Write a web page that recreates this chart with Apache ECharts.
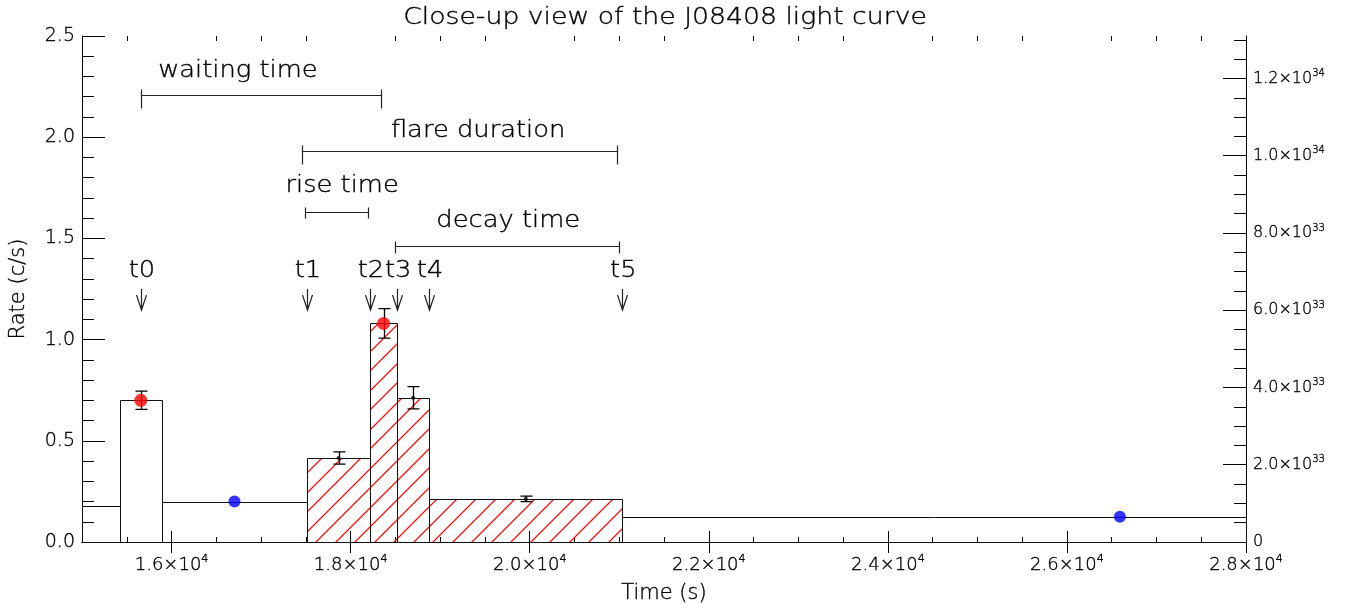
<!DOCTYPE html>
<html>
<head>
<meta charset="utf-8">
<script src="https://cdn.jsdelivr.net/npm/echarts@6/dist/echarts.min.js"></script>
<style>
html,body{margin:0;padding:0;background:#fff;}
#c{width:1346px;height:604px;}
</style>
</head>
<body>
<div id="c"></div>
<script>
// ---------------- data ----------------
const binStart = [14500, 15421, 15893, 17513, 18216, 18521, 18875, 21034];
const binEnd   = [15421, 15893, 17513, 18216, 18521, 18875, 21034, 32150];
const binRate  = [0.179, 0.700, 0.200, 0.415, 1.080, 0.713, 0.213, 0.125];
const binFlare = [0, 0, 0, 1, 1, 1, 1, 0];

const peakTimes = [15657, 18368];
const peakRates = [0.700, 1.080];
const quiescentTimes = [16703, 26592];
const quiescentRates = [0.200, 0.125];
const flareBinTimes = [17865, 18698, 19955];
const flareBinRates = [0.415, 0.713, 0.213];

const errTimes = [15657, 17865, 18368, 18698, 19955];
const errRates = [0.700, 0.415, 1.080, 0.713, 0.213];
const errSizes = [0.045, 0.030, 0.073, 0.055, 0.014];

const markerNames = ['t0', 't1', 't2', 't3', 't4', 't5'];
const markerTimes = [15659, 17513, 18216, 18521, 18875, 21034];
const markerLabelLevel = 1.34;
const markerArrowTop = 1.25;

const intervalNames = ['waiting time', 'flare duration', 'rise time', 'decay time'];
const intervalStart = [15659, 17457, 17490, 18496];
const intervalEnd   = [18340, 20975, 18194, 20997];
const intervalLevel = [2.21, 1.93, 1.63, 1.46];
const intervalTextTime  = [16742, 19424, 17905, 19760];
const intervalTextLevel = [2.325, 2.03, 1.759, 1.586];

const xMajorTicks = [16000, 18000, 20000, 22000, 24000, 26000, 28000];
const yLeftTicks = [0.0, 0.5, 1.0, 1.5, 2.0, 2.5];
const yRightTicks = [0, 2e33, 4e33, 6e33, 8e33, 1.0e34, 1.2e34];
const lumPerRate = 5.24e33;

// ---------------- helpers ----------------
const FONT = '"DejaVu Sans", sans-serif';
const FW = 200;
const TXT = '#000';
const TB = { textBorderColor: '#000', textBorderWidth: 0.35 };   // for ECharts text styles
const ZB = { stroke: '#000', lineWidth: 0.35 };                   // for zrender text elements
const xMinor = [];
for (let t = 15500; t < 28000; t += 500) if (xMajorTicks.indexOf(t) < 0) xMinor.push(t);
const yRightMax = 2.5 * lumPerRate;
const yRightMinor = [];
for (let i = 1; i * 5e32 < yRightMax; i++) { if (i % 4 !== 0) yRightMinor.push(i * 5e32); }

function sciRich(v) {
  if (v === 0) return '{m|0}';
  const e = Math.floor(Math.log10(v) + 1e-9);
  const m = v / Math.pow(10, e);
  return '{m|' + m.toFixed(1) + '×10}{s|' + e + '}';
}

const chart = echarts.init(document.getElementById('c'));

function px(v){ return Math.round(v) + 0.5; }

function renderBar(params, api) {
  const s = api.value(0), e = api.value(1), r = api.value(2), h = api.value(3);
  const cs = params.coordSys;
  const p0 = api.coord([s, r]);
  const p1 = api.coord([e, 0]);
  const x0 = px(Math.max(p0[0], cs.x));
  const x1 = px(Math.min(p1[0], cs.x + cs.width));
  const yT = px(p0[1]), yB = px(p1[1]);
  const children = [];
  if (h) {
    const sp = 19.5;
    let d = '';
    let k = Math.ceil((x0 + yT) / sp);
    for (; k * sp < x1 + yB; k++) {
      const c = Math.round(k * sp);
      const xs = Math.max(x0, c - yB);
      const xe = Math.min(x1, c - yT);
      if (xe > xs) {
        d += 'M' + xs + ' ' + (c - xs) + 'L' + xe + ' ' + (c - xe);
      }
    }
    if (d) {
      children.push({ type: 'path', shape: { pathData: d },
        style: { fill: null, stroke: '#ff0000', lineWidth: 1.1 } });
    }
  }
  children.push({ type: 'rect', shape: { x: x0, y: yT, width: x1 - x0, height: yB - yT },
    style: { fill: null, stroke: '#111', lineWidth: 1 } });
  return { type: 'group', children: children };
}

function renderErr(params, api) {
  const t = api.value(0), r = api.value(1), e = api.value(2);
  const a = api.coord([t, r + e]);
  const b = api.coord([t, r - e]);
  const x = px(a[0]);
  const d = 'M' + x + ' ' + a[1] + 'L' + x + ' ' + b[1] +
            'M' + (x - 6) + ' ' + a[1] + 'L' + (x + 6) + ' ' + a[1] +
            'M' + (x - 6) + ' ' + b[1] + 'L' + (x + 6) + ' ' + b[1];
  return { type: 'path', shape: { pathData: d }, style: { fill: null, stroke: '#000', lineWidth: 1.3 } };
}

const capAbove = [6, 6, 5, 5];
const capBelow = [13, 13, 6, 7];
function renderInterval(params, api) {
  const i = params.dataIndex;
  const a = api.coord([api.value(0), api.value(2)]);
  const b = api.coord([api.value(1), api.value(2)]);
  const tp = api.coord([api.value(3), api.value(4)]);
  const y = px(a[1]);
  const xa = px(a[0]), xb = px(b[0]);
  const d = 'M' + xa + ' ' + y + 'L' + xb + ' ' + y +
            'M' + xa + ' ' + (y - capAbove[i]) + 'L' + xa + ' ' + (y + capBelow[i]) +
            'M' + xb + ' ' + (y - capAbove[i]) + 'L' + xb + ' ' + (y + capBelow[i]);
  return { type: 'group', children: [
    { type: 'path', shape: { pathData: d }, style: { fill: null, stroke: '#222', lineWidth: 1.2 } },
    { type: 'text', x: tp[0], y: tp[1], scaleX: 1.12,
      style: Object.assign({ text: intervalNames[i], fill: TXT, fontSize: 23, fontFamily: FONT, fontWeight: FW,
        align: 'center', verticalAlign: 'middle' }, ZB) }
  ]};
}

function renderMarker(params, api) {
  const i = params.dataIndex;
  const t = api.value(0);
  const top = api.coord([t, markerArrowTop]);
  const lab = api.coord([t, markerLabelLevel]);
  const x = px(top[0]);
  const y0 = top[1], y1 = top[1] + 21;
  const d = 'M' + x + ' ' + y0 + 'L' + x + ' ' + y1 +
            'M' + (x - 5) + ' ' + (y1 - 15) + 'L' + x + ' ' + y1 + 'L' + (x + 5) + ' ' + (y1 - 15);
  return { type: 'group', children: [
    { type: 'path', shape: { pathData: d }, style: { fill: null, stroke: '#222', lineWidth: 1.2 } },
    { type: 'text', x: lab[0] + 1, y: lab[1], scaleX: 1.12,
      style: Object.assign({ text: markerNames[i], fill: TXT, fontSize: 23, fontFamily: FONT, fontWeight: FW,
        align: 'center', verticalAlign: 'middle' }, ZB) }
  ]};
}

const axisLineStyle = { color: '#000', width: 1 };

const xLabelRich = {
  m: Object.assign({ fontSize: 18, fontFamily: FONT, fontWeight: FW, color: TXT, lineHeight: 22 }, TB),
  s: Object.assign({ fontSize: 11, fontFamily: FONT, fontWeight: FW, color: TXT, verticalAlign: 'top', lineHeight: 12 }, TB)
};
const yRightRich = {
  m: Object.assign({ fontSize: 16, fontFamily: FONT, fontWeight: FW, color: TXT, lineHeight: 20 }, TB),
  s: Object.assign({ fontSize: 10, fontFamily: FONT, fontWeight: FW, color: TXT, verticalAlign: 'top', lineHeight: 11 }, TB)
};

const xBase = { type: 'value', min: 15000, max: 28000, splitLine: { show: false } };
const option = {
  animation: false,
  backgroundColor: '#fff',
  grid: { left: 82, right: 100, top: 36, bottom: 62, containLabel: false, outerBoundsMode: 'none' },
  graphic: [{
    type: 'text', x: 665, y: 18, scaleX: 1.16,
    style: Object.assign({ text: 'Close-up view of the J08408 light curve', fill: TXT, fontSize: 23,
      fontFamily: FONT, fontWeight: FW, align: 'center', verticalAlign: 'middle' }, ZB)
  }],
  xAxis: [
    Object.assign({}, xBase, {
      position: 'bottom',
      name: 'Time (s)', nameLocation: 'middle', nameGap: 41,
      nameTextStyle: Object.assign({ fontSize: 21, fontFamily: FONT, fontWeight: FW, color: TXT }, TB),
      axisLine: { show: true, lineStyle: axisLineStyle },
      axisTick: { show: true, inside: true, length: 11, customValues: xMajorTicks, lineStyle: axisLineStyle },
      axisLabel: { show: true, customValues: xMajorTicks, margin: 12,
        formatter: v => '{m|' + (v / 1e4).toFixed(1) + '×10}{s|4}', rich: xLabelRich }
    }),
    Object.assign({}, xBase, {
      position: 'bottom',
      axisLine: { show: false },
      axisTick: { show: true, inside: true, length: 5, customValues: xMinor, lineStyle: axisLineStyle },
      axisLabel: { show: false }
    }),
    Object.assign({}, xBase, {
      position: 'top',
      axisLine: { show: true, lineStyle: axisLineStyle },
      axisTick: { show: true, inside: true, length: 11, customValues: xMajorTicks, lineStyle: axisLineStyle },
      axisLabel: { show: false }
    }),
    Object.assign({}, xBase, {
      position: 'top',
      axisLine: { show: false },
      axisTick: { show: true, inside: true, length: 5, customValues: xMinor, lineStyle: axisLineStyle },
      axisLabel: { show: false }
    })
  ],
  yAxis: [
    {
      type: 'value', position: 'left', min: 0, max: 2.5, interval: 0.5,
      name: 'Rate (c/s)', nameLocation: 'middle', nameGap: 53, nameRotate: 90,
      nameTextStyle: Object.assign({ fontSize: 21, fontFamily: FONT, fontWeight: FW, color: TXT }, TB),
      axisLine: { show: true, lineStyle: axisLineStyle },
      axisTick: { show: true, inside: true, length: 23, lineStyle: axisLineStyle },
      minorTick: { show: true, splitNumber: 5, length: 12, lineStyle: { color: '#000', width: 1 } },
      splitLine: { show: false },
      axisLabel: Object.assign({ fontSize: 19, fontFamily: FONT, fontWeight: FW, color: TXT, margin: 7,
        formatter: v => v.toFixed(1) }, TB)
    },
    {
      type: 'value', position: 'right', min: 0, max: yRightMax,
      axisLine: { show: true, lineStyle: axisLineStyle },
      axisTick: { show: true, inside: true, length: 23, customValues: yRightTicks, lineStyle: axisLineStyle },
      splitLine: { show: false },
      axisLabel: { show: true, customValues: yRightTicks, margin: 7,
        formatter: v => sciRich(v), rich: yRightRich }
    },
    {
      type: 'value', position: 'right', min: 0, max: yRightMax,
      axisLine: { show: false },
      axisTick: { show: true, inside: true, length: 12, customValues: yRightMinor, lineStyle: axisLineStyle },
      splitLine: { show: false },
      axisLabel: { show: false }
    }
  ],
  series: [
    {
      type: 'custom', name: 'bins', renderItem: renderBar, z: 2,
      xAxisIndex: 0, yAxisIndex: 0,
      data: binStart.map((s, i) => [s, binEnd[i], binRate[i], binFlare[i]]),
      encode: { x: [0, 1], y: 2 }
    },
    {
      type: 'custom', name: 'errors', renderItem: renderErr, z: 3,
      xAxisIndex: 0, yAxisIndex: 0,
      data: errTimes.map((t, i) => [t, errRates[i], errSizes[i]]),
      encode: { x: 0, y: 1 }
    },
    {
      type: 'scatter', name: 'bin', symbol: 'circle', symbolSize: 4, z: 4,
      xAxisIndex: 0, yAxisIndex: 0,
      itemStyle: { color: '#000' },
      data: flareBinTimes.map((t, i) => [t, flareBinRates[i]])
    },
    {
      type: 'scatter', name: 'peak', symbol: 'circle', symbolSize: 13, z: 5,
      xAxisIndex: 0, yAxisIndex: 0,
      itemStyle: { color: '#ff0000' },
      data: peakTimes.map((t, i) => [t, peakRates[i]])
    },
    {
      type: 'scatter', name: 'quiescent', symbol: 'circle', symbolSize: 12, z: 5,
      xAxisIndex: 0, yAxisIndex: 0,
      itemStyle: { color: '#0000ff' },
      data: quiescentTimes.map((t, i) => [t, quiescentRates[i]])
    },
    {
      type: 'custom', name: 'intervals', renderItem: renderInterval, z: 6,
      xAxisIndex: 0, yAxisIndex: 0,
      data: intervalStart.map((s, i) => [s, intervalEnd[i], intervalLevel[i], intervalTextTime[i], intervalTextLevel[i]]),
      encode: { x: [0, 1], y: 2 }
    },
    {
      type: 'custom', name: 'markers', renderItem: renderMarker, z: 6,
      xAxisIndex: 0, yAxisIndex: 0,
      data: markerTimes.map(t => [t, markerArrowTop]),
      encode: { x: 0, y: 1 }
    }
  ]
};
chart.setOption(option);
</script>
</body>
</html>
